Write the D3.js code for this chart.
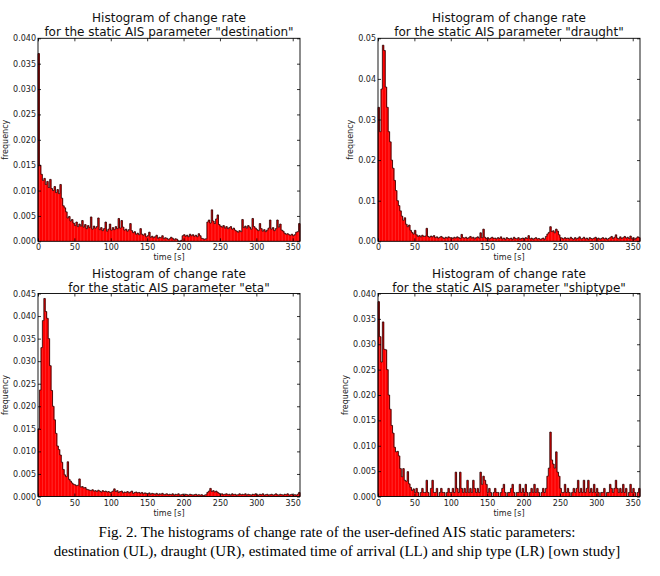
<!DOCTYPE html>
<html>
<head>
<meta charset="utf-8">
<script src="https://cdn.jsdelivr.net/npm/d3@7"></script>
<style>
  body { margin: 0; background: #fff; }
  .chart text { font-family: "DejaVu Sans", sans-serif; }
  .chart .caption { font-family: "Liberation Serif", "Times New Roman", serif; font-size: 15px; fill: #000; }
</style>
</head>
<body>
<div class="chart"></div>
<script>
// Data: bin heights (frequency), 2 s bins from 0 to 360 s.
const xTicks = [0, 50, 100, 150, 200, 250, 300, 350];

const destination = [
  0.0370, 0.0150, 0.0132, 0.0120, 0.0124, 0.0112, 0.0118, 0.0106, 0.0122, 0.0104,
  0.0100, 0.0108, 0.0096, 0.0102, 0.0094, 0.0112, 0.0085, 0.0070, 0.0066, 0.0058,
  0.0046, 0.0049, 0.0040, 0.0043, 0.0036, 0.0031, 0.0038, 0.0029, 0.0034, 0.0030,
  0.0041, 0.0028, 0.0033, 0.0025, 0.0031, 0.0027, 0.0048, 0.0024, 0.0030, 0.0026,
  0.0029, 0.0046, 0.0023, 0.0027, 0.0021, 0.0025, 0.0038, 0.0020, 0.0024, 0.0034,
  0.0022, 0.0027, 0.0023, 0.0029, 0.0025, 0.0045, 0.0026, 0.0041, 0.0028, 0.0022,
  0.0024, 0.0020, 0.0023, 0.0035, 0.0021, 0.0017, 0.0019, 0.0014, 0.0016, 0.0013,
  0.0025, 0.0014, 0.0012, 0.0015, 0.0009, 0.0011, 0.0018, 0.0008, 0.0010, 0.0007,
  0.0009, 0.0012, 0.0006, 0.0008, 0.0007, 0.0011, 0.0005, 0.0007, 0.0006, 0.0004,
  0.0005, 0.0008, 0.0006, 0.0003, 0.0005, 0.0004, 0.0001, 0.0000, 0.0002, 0.0011,
  0.0013, 0.0010, 0.0012, 0.0009, 0.0014, 0.0011, 0.0013, 0.0010, 0.0012, 0.0009,
  0.0015, 0.0011, 0.0006, 0.0005, 0.0004, 0.0005, 0.0038, 0.0042, 0.0036, 0.0062,
  0.0040, 0.0035, 0.0044, 0.0052, 0.0033, 0.0030, 0.0028, 0.0031, 0.0026, 0.0029,
  0.0025, 0.0027, 0.0029, 0.0024, 0.0026, 0.0022, 0.0020, 0.0018, 0.0021, 0.0019,
  0.0043, 0.0027, 0.0030, 0.0026, 0.0031, 0.0028, 0.0024, 0.0045, 0.0029, 0.0026,
  0.0023, 0.0021, 0.0035, 0.0025, 0.0020, 0.0023, 0.0019, 0.0022, 0.0026, 0.0042,
  0.0024, 0.0027, 0.0021, 0.0025, 0.0042, 0.0028, 0.0034, 0.0022, 0.0020, 0.0016,
  0.0014, 0.0015, 0.0013, 0.0012, 0.0014, 0.0011, 0.0013, 0.0018, 0.0019, 0.0035
];

const draught = [
  0.0330, 0.0270, 0.0375, 0.0483, 0.0470, 0.0380, 0.0330, 0.0270, 0.0245, 0.0200,
  0.0180, 0.0150, 0.0125, 0.0100, 0.0088, 0.0075, 0.0062, 0.0052, 0.0058, 0.0042,
  0.0036, 0.0040, 0.0027, 0.0022, 0.0018, 0.0027, 0.0016, 0.0012, 0.0014, 0.0011,
  0.0015, 0.0012, 0.0013, 0.0032, 0.0012, 0.0010, 0.0013, 0.0011, 0.0014, 0.0009,
  0.0011, 0.0008, 0.0010, 0.0012, 0.0009, 0.0007, 0.0010, 0.0008, 0.0011, 0.0009,
  0.0009, 0.0007, 0.0010, 0.0008, 0.0011, 0.0009, 0.0007, 0.0017, 0.0009, 0.0008,
  0.0010, 0.0007, 0.0009, 0.0012, 0.0008, 0.0010, 0.0006, 0.0009, 0.0011, 0.0008,
  0.0021, 0.0009, 0.0030, 0.0010, 0.0007, 0.0009, 0.0006, 0.0008, 0.0010, 0.0007,
  0.0008, 0.0006, 0.0009, 0.0007, 0.0011, 0.0006, 0.0008, 0.0005, 0.0009, 0.0007,
  0.0006, 0.0008, 0.0005, 0.0010, 0.0007, 0.0006, 0.0009, 0.0005, 0.0007, 0.0008,
  0.0006, 0.0009, 0.0007, 0.0014, 0.0006, 0.0008, 0.0005, 0.0007, 0.0009, 0.0006,
  0.0007, 0.0005, 0.0006, 0.0008, 0.0005, 0.0012, 0.0018, 0.0022, 0.0036, 0.0024,
  0.0026, 0.0021, 0.0030, 0.0025, 0.0016, 0.0009, 0.0008, 0.0006, 0.0009, 0.0007,
  0.0008, 0.0006, 0.0010, 0.0007, 0.0005, 0.0009, 0.0006, 0.0008, 0.0011, 0.0006,
  0.0007, 0.0010, 0.0006, 0.0008, 0.0005, 0.0009, 0.0007, 0.0006, 0.0008, 0.0010,
  0.0006, 0.0008, 0.0005, 0.0007, 0.0009, 0.0006, 0.0008, 0.0005, 0.0007, 0.0009,
  0.0012, 0.0007, 0.0010, 0.0016, 0.0008, 0.0006, 0.0011, 0.0007, 0.0009, 0.0012,
  0.0008, 0.0010, 0.0007, 0.0013, 0.0006, 0.0009, 0.0005, 0.0008, 0.0011, 0.0009
];

const eta = [
  0.0150, 0.0236, 0.0330, 0.0390, 0.0439, 0.0410, 0.0395, 0.0350, 0.0290, 0.0235,
  0.0200, 0.0170, 0.0140, 0.0112, 0.0104, 0.0092, 0.0076, 0.0060, 0.0048, 0.0044,
  0.0077, 0.0038, 0.0034, 0.0030, 0.0027, 0.0026, 0.0024, 0.0025, 0.0039, 0.0021,
  0.0022, 0.0019, 0.0020, 0.0016, 0.0015, 0.0014, 0.0013, 0.0015, 0.0012, 0.0013,
  0.0011, 0.0014, 0.0012, 0.0010, 0.0013, 0.0011, 0.0012, 0.0010, 0.0011, 0.0009,
  0.0010, 0.0012, 0.0017, 0.0011, 0.0013, 0.0009, 0.0011, 0.0012, 0.0008, 0.0010,
  0.0009, 0.0011, 0.0008, 0.0010, 0.0012, 0.0007, 0.0009, 0.0010, 0.0008, 0.0009,
  0.0007, 0.0009, 0.0006, 0.0008, 0.0007, 0.0006, 0.0008, 0.0005, 0.0007, 0.0006,
  0.0005, 0.0007, 0.0004, 0.0006, 0.0005, 0.0007, 0.0004, 0.0005, 0.0006, 0.0004,
  0.0005, 0.0004, 0.0006, 0.0003, 0.0005, 0.0004, 0.0006, 0.0003, 0.0004, 0.0005,
  0.0003, 0.0005, 0.0004, 0.0003, 0.0005, 0.0004, 0.0003, 0.0004, 0.0005, 0.0003,
  0.0004, 0.0003, 0.0004, 0.0002, 0.0003, 0.0004, 0.0009, 0.0012, 0.0018, 0.0011,
  0.0013, 0.0010, 0.0012, 0.0009, 0.0007, 0.0005, 0.0006, 0.0004, 0.0005, 0.0006,
  0.0004, 0.0005, 0.0003, 0.0006, 0.0004, 0.0005, 0.0003, 0.0004, 0.0006, 0.0004,
  0.0005, 0.0004, 0.0006, 0.0003, 0.0005, 0.0004, 0.0003, 0.0005, 0.0004, 0.0006,
  0.0004, 0.0003, 0.0005, 0.0004, 0.0006, 0.0003, 0.0004, 0.0005, 0.0003, 0.0004,
  0.0005, 0.0003, 0.0004, 0.0006, 0.0004, 0.0003, 0.0005, 0.0004, 0.0003, 0.0005,
  0.0004, 0.0006, 0.0003, 0.0004, 0.0005, 0.0003, 0.0004, 0.0003, 0.0005, 0.0009
];

const shiptype = [
  0.0384, 0.0315, 0.0265, 0.0344, 0.0290, 0.0289, 0.0250, 0.0200, 0.0172, 0.0140,
  0.0125, 0.0097, 0.0088, 0.0089, 0.0080, 0.0055, 0.0039, 0.0055, 0.0032, 0.0030,
  0.0049, 0.0025, 0.0018, 0.0012, 0.0015, 0.0008, 0.0016, 0.0008, 0.0000, 0.0008,
  0.0016, 0.0008, 0.0008, 0.0032, 0.0008, 0.0000, 0.0016, 0.0032, 0.0008, 0.0008,
  0.0016, 0.0000, 0.0008, 0.0016, 0.0008, 0.0008, 0.0000, 0.0008, 0.0016, 0.0008,
  0.0008, 0.0016, 0.0008, 0.0048, 0.0016, 0.0008, 0.0048, 0.0016, 0.0008, 0.0016,
  0.0008, 0.0032, 0.0008, 0.0016, 0.0008, 0.0032, 0.0016, 0.0008, 0.0016, 0.0008,
  0.0048, 0.0024, 0.0040, 0.0032, 0.0024, 0.0008, 0.0016, 0.0008, 0.0000, 0.0008,
  0.0016, 0.0008, 0.0008, 0.0000, 0.0008, 0.0016, 0.0024, 0.0008, 0.0000, 0.0008,
  0.0008, 0.0016, 0.0024, 0.0008, 0.0000, 0.0008, 0.0008, 0.0024, 0.0008, 0.0016,
  0.0008, 0.0024, 0.0008, 0.0000, 0.0008, 0.0016, 0.0008, 0.0024, 0.0008, 0.0016,
  0.0008, 0.0000, 0.0008, 0.0016, 0.0008, 0.0016, 0.0040, 0.0056, 0.0127, 0.0072,
  0.0064, 0.0056, 0.0088, 0.0048, 0.0040, 0.0016, 0.0008, 0.0008, 0.0024, 0.0008,
  0.0016, 0.0008, 0.0000, 0.0008, 0.0016, 0.0008, 0.0016, 0.0032, 0.0008, 0.0016,
  0.0008, 0.0032, 0.0008, 0.0016, 0.0032, 0.0008, 0.0016, 0.0008, 0.0024, 0.0008,
  0.0016, 0.0008, 0.0000, 0.0008, 0.0008, 0.0016, 0.0000, 0.0008, 0.0008, 0.0024,
  0.0016, 0.0008, 0.0016, 0.0032, 0.0016, 0.0008, 0.0016, 0.0008, 0.0024, 0.0008,
  0.0016, 0.0000, 0.0008, 0.0024, 0.0008, 0.0016, 0.0008, 0.0000, 0.0008, 0.0016
];

// Y tick labels per panel.
const yTicksDestination = [0, 0.005, 0.010, 0.015, 0.020, 0.025, 0.030, 0.035, 0.040];
const yTicksDraught = [0, 0.01, 0.02, 0.03, 0.04, 0.05];
const yTicksEta = [0, 0.005, 0.010, 0.015, 0.020, 0.025, 0.030, 0.035, 0.040, 0.045];
const yTicksShiptype = [0, 0.005, 0.010, 0.015, 0.020, 0.025, 0.030, 0.035, 0.040];

const captionLines = [
  'Fig. 2. The histograms of change rate of the user-defined AIS static parameters:',
  'destination (UL), draught (UR), estimated time of arrival (LL) and ship type (LR) [own study]'
];

// Layout.
const width = 660;
const height = 576;
const plotWidth = 262;
const plotHeight = 203;
const xMax = 360;

const panels = [
  {name: 'destination', values: destination, yTicks: yTicksDestination, fmt: '.3f', left: 38, top: 38.3},
  {name: 'draught', values: draught, yTicks: yTicksDraught, fmt: '.2f', left: 378, top: 38.3},
  {name: 'eta', values: eta, yTicks: yTicksEta, fmt: '.3f', left: 38, top: 293.5},
  {name: 'shiptype', values: shiptype, yTicks: yTicksShiptype, fmt: '.3f', left: 378, top: 293.5}
];

function styleTicks(sel) {
  sel.select('.domain').remove();
  sel.selectAll('line').attr('stroke', '#000').attr('stroke-width', 0.8);
  sel.selectAll('text')
    .style('font-family', '"DejaVu Sans", sans-serif')
    .style('font-size', '8px')
    .attr('fill', '#222');
}

function drawPanel(svg, p) {
  const g = svg.append('g').attr('transform', `translate(${p.left},${p.top})`);

  // Scales.
  const xScale = d3.scaleLinear().domain([0, xMax]).range([0, plotWidth]);
  const yScale = d3.scaleLinear()
    .domain([0, d3.max(p.yTicks)])
    .range([plotHeight, 0]);

  const binWidth = xMax / p.values.length;
  const bins = p.values.map((v, i) => ({x0: i * binWidth, x1: (i + 1) * binWidth, v}));

  // Draw bars.
  g.selectAll('.bar')
    .data(bins)
    .join('rect')
    .attr('class', 'bar')
    .attr('x', d => xScale(d.x0))
    .attr('width', d => xScale(d.x1) - xScale(d.x0) + 0.25)
    .attr('y', d => yScale(d.v))
    .attr('height', d => yScale(0) - yScale(d.v))
    .style('fill', '#ff0000');

  // Bar outline (step line over the tops).
  const pts = [[xScale(0), yScale(0)]];
  bins.forEach(d => {
    pts.push([xScale(d.x0), yScale(d.v)]);
    pts.push([xScale(d.x1), yScale(d.v)]);
  });
  pts.push([xScale(xMax), yScale(0)]);
  g.append('path')
    .attr('d', d3.line()(pts))
    .attr('fill', 'none')
    .attr('stroke', '#1a0000')
    .attr('stroke-width', 0.75)
    .attr('stroke-linejoin', 'miter');

  // Axes, ticks pointing inward on all sides.
  const xAxis = g.append('g')
    .attr('transform', `translate(0,${plotHeight})`)
    .call(d3.axisBottom(xScale).tickValues(xTicks).tickSizeInner(-3).tickSizeOuter(0).tickPadding(3.5));
  styleTicks(xAxis);

  g.append('g')
    .call(d3.axisTop(xScale).tickValues(xTicks).tickSizeInner(-3).tickSizeOuter(0).tickFormat(''))
    .call(styleTicks);

  const yAxis = g.append('g')
    .call(d3.axisLeft(yScale).tickValues(p.yTicks).tickFormat(d3.format(p.fmt)).tickSizeInner(-3).tickSizeOuter(0).tickPadding(2));
  styleTicks(yAxis);

  g.append('g')
    .attr('transform', `translate(${plotWidth},0)`)
    .call(d3.axisRight(yScale).tickValues(p.yTicks).tickSizeInner(-3).tickSizeOuter(0).tickFormat(''))
    .call(styleTicks);

  // Frame.
  g.append('rect')
    .attr('width', plotWidth)
    .attr('height', plotHeight)
    .attr('fill', 'none')
    .attr('stroke', '#000')
    .attr('stroke-width', 0.9);

  // Title.
  const title = g.append('text')
    .attr('text-anchor', 'middle')
    .style('font-size', '12px')
    .attr('fill', '#111');
  title.append('tspan')
    .attr('x', plotWidth / 2)
    .attr('y', -16)
    .text('Histogram of change rate');
  title.append('tspan')
    .attr('x', plotWidth / 2)
    .attr('y', -2)
    .text(`for the static AIS parameter "${p.name}"`);

  // Axis labels.
  g.append('text')
    .attr('x', plotWidth / 2)
    .attr('y', plotHeight + 19)
    .attr('text-anchor', 'middle')
    .style('font-size', '8px')
    .attr('fill', '#222')
    .text('time [s]');

  const labelW = d3.max(yAxis.selectAll('text').nodes(), n => n.getBBox().width);
  g.append('text')
    .attr('transform', `translate(${-(labelW + 2 + 5.5)},${plotHeight / 2}) rotate(-90)`)
    .attr('text-anchor', 'middle')
    .style('font-size', '8px')
    .attr('fill', '#222')
    .text('frequency');
}

function ready() {
  const svg = d3.select('.chart')
    .append('svg')
    .attr('width', width)
    .attr('height', height);

  svg.append('rect').attr('width', width).attr('height', height).attr('fill', '#fff');

  panels.forEach(p => drawPanel(svg, p));

  // Caption.
  svg.append('g')
    .selectAll('text')
    .data(captionLines)
    .join('text')
    .attr('class', 'caption')
    .attr('x', 337)
    .attr('y', (d, i) => 537 + i * 19)
    .attr('text-anchor', 'middle')
    .text(d => d);
}

ready();
</script>
</body>
</html>
